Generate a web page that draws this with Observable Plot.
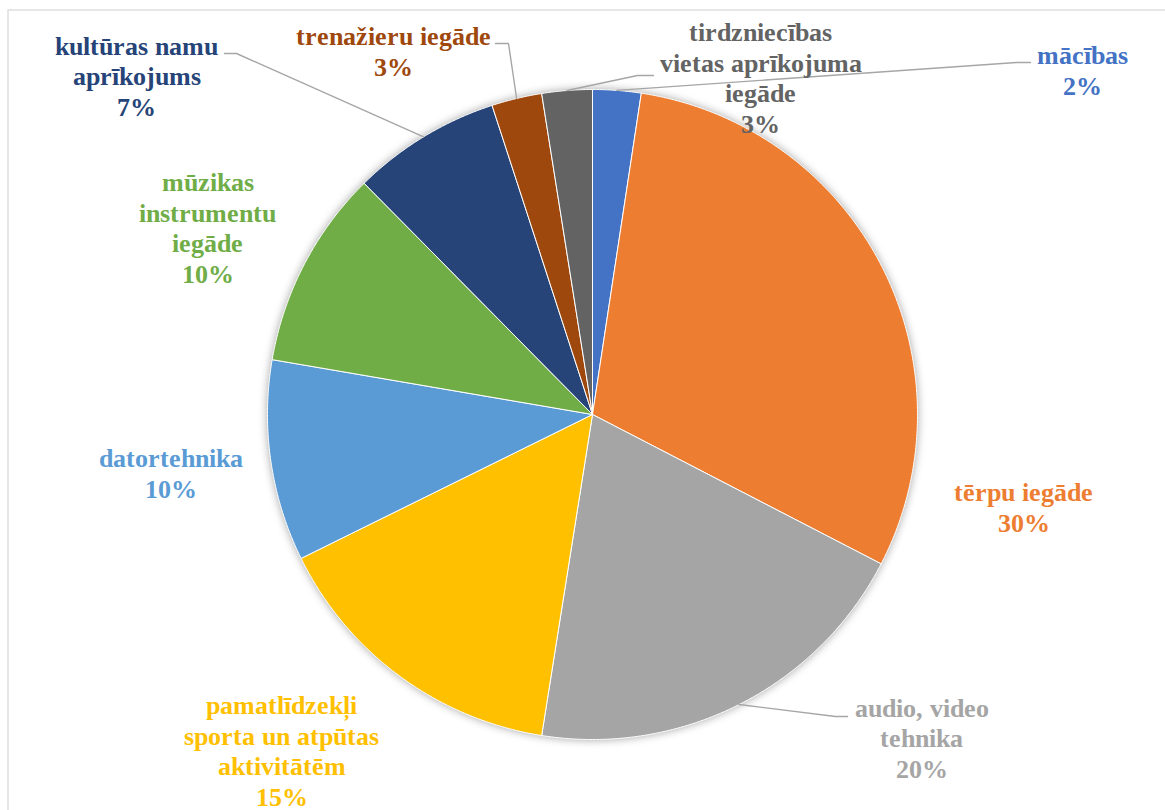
<!DOCTYPE html>
<html>
<head>
<meta charset="utf-8">
<script src="https://cdn.jsdelivr.net/npm/d3@7"></script>
<script src="https://cdn.jsdelivr.net/npm/@observablehq/plot@0.6"></script>
<style>
  @font-face {
    font-family: "LabelSerif";
    src: local("Liberation Serif Bold"), local("LiberationSerif-Bold"), local("Times New Roman Bold"), local("TimesNewRomanPS-BoldMT"), local("DejaVu Serif Bold"), local("DejaVuSerif-Bold");
    font-weight: bold;
  }
  html, body { margin: 0; padding: 0; background: #fff; }
  #chart { width: 1165px; height: 810px; overflow: hidden; }
  #chart svg text, #chart svg tspan { font-family: "LabelSerif", "Liberation Serif", "Times New Roman", Tinos, "DejaVu Serif", serif !important; }
</style>
</head>
<body>
<div id="chart"></div>
<script>
// ---- data ----
const categories = [
  "mācības",
  "tērpu iegāde",
  "audio, video tehnika",
  "pamatlīdzekļi sporta un atpūtas aktivitātēm",
  "datortehnika",
  "mūzikas instrumentu iegāde",
  "kultūras namu aprīkojums",
  "trenažieru iegāde",
  "tirdzniecības vietas aprīkojuma iegāde"
];
const values = [2.4, 30.2, 19.9, 15.2, 10.0, 9.9, 7.4, 2.5, 2.5];
const colors = ["#4472C4", "#ED7D31", "#A5A5A5", "#FFC000", "#5B9BD5", "#70AD47", "#264478", "#9E480E", "#636363"];

// ---- layout (label wrapping / positions) ----
const labelText = [
  "mācības",
  "tērpu iegāde",
  "audio, video\ntehnika",
  "pamatlīdzekļi\nsporta un atpūtas\naktivitātēm",
  "datortehnika",
  "mūzikas\ninstrumentu\niegāde",
  "kultūras namu\naprīkojums",
  "trenažieru iegāde",
  "tirdzniecības\nvietas aprīkojuma\niegāde"
];
// x = centre of text block, y = baseline of last line
const labelPos = [
  [1082, 94], [1023, 531], [921, 777], [281, 805], [170, 497],
  [207, 282], [136, 115], [393, 75], [760, 132]
];
// leader start (next to label) and elbow; null = no leader
const leaderPts = [
  [[1030, 62], [1016, 62]],
  null,
  [[847, 716], [835, 716]],
  null, null, null,
  [[224, 53], [236, 53]],
  [[495, 43], [508, 43]],
  [[653, 75], [637, 75]]
];

const W = 1165, H = 810;
const cx = 592, cy = 414, R = 325;

const arcs = d3.pie().sort(null).value(d => d)(values);
const pt = (a, r) => [cx + r * Math.sin(a), cy - r * Math.cos(a)];

// slice outlines
const slicePts = [];
arcs.forEach((a, i) => {
  const cat = categories[i];
  slicePts.push({cat, color: colors[i], x: cx, y: cy});
  const n = Math.max(2, Math.ceil((a.endAngle - a.startAngle) / (Math.PI / 720)));
  for (let k = 0; k <= n; k++) {
    const ang = a.startAngle + (a.endAngle - a.startAngle) * k / n;
    const [x, y] = pt(ang, R);
    slicePts.push({cat, color: colors[i], x, y});
  }
  slicePts.push({cat, color: colors[i], x: cx, y: cy});
});

// labels
const labels = categories.map((c, i) => ({
  cat: c,
  text: labelText[i] + "\n" + Math.round(values[i]) + "%",
  color: colors[i],
  x: labelPos[i][0],
  y: labelPos[i][1]
}));

// leader lines (end at slice mid-angle on the rim)
const leaders = [];
arcs.forEach((a, i) => {
  const lp = leaderPts[i];
  if (!lp) return;
  const mid = (a.startAngle + a.endAngle) / 2;
  const [ex, ey] = pt(mid, R);
  leaders.push({cat: categories[i], x: lp[0][0], y: lp[0][1]});
  leaders.push({cat: categories[i], x: lp[1][0], y: lp[1][1]});
  leaders.push({cat: categories[i], x: ex, y: ey});
});

const chart = Plot.plot({
  width: W,
  height: H,
  margin: 0,
  x: {domain: [0, W], range: [0, W], axis: null},
  y: {domain: [0, H], range: [0, H], axis: null},
  color: {type: "identity"},
  style: {background: "#fff", overflow: "hidden"},
  marks: [
    Plot.frame({stroke: "#D9D9D9", strokeWidth: 1.3, insetLeft: 7.5, insetTop: 9.5, insetRight: -10, insetBottom: -10}),
    Plot.line(slicePts, {
      x: "x", y: "y", z: "cat", fill: "color",
      stroke: "#fff", strokeWidth: 1, strokeLinejoin: "round", curve: "linear"
    }),
    Plot.line(leaders, {
      x: "x", y: "y", z: "cat", stroke: "#A6A6A6", strokeWidth: 1.4, strokeLinejoin: "miter"
    }),
    Plot.text(labels, {
      x: "x", y: "y", text: "text", fill: "color",
      fontFamily: "Liberation Serif",
      fontWeight: "bold", fontSize: 26, lineHeight: 1.17,
      textAnchor: "middle", lineAnchor: "bottom"
    })
  ]
});

// soft shadow around the pie like the original
d3.select(chart).selectAll("g[aria-label='line']").filter((d, i) => i === 0)
  .style("filter", "drop-shadow(0px 0px 4px rgba(0,0,0,0.35))");

document.getElementById("chart").appendChild(chart);
</script>
</body>
</html>
